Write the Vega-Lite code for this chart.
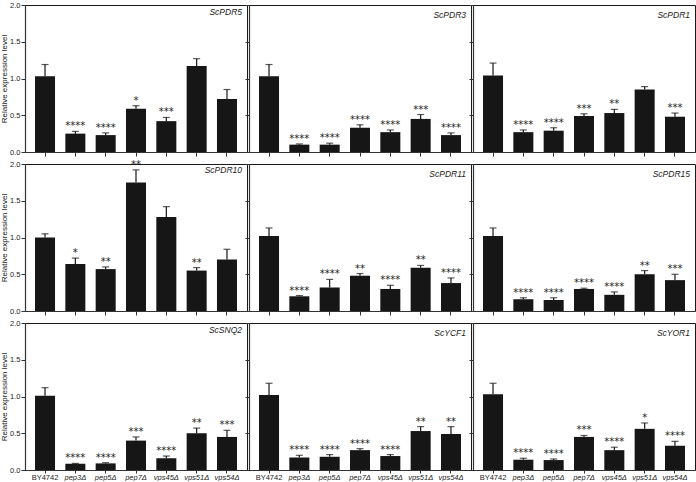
{
  "$schema": "https://vega.github.io/schema/vega-lite/v6.json",
  "padding": {"left": 0, "top": 0, "right": 0, "bottom": 0},
  "datasets": {
    "expr": [
      {"gene": "ScPDR5", "strain": "BY4742", "value": 1.03, "upper": 1.19, "sig": ""},
      {"gene": "ScPDR5", "strain": "pep3Δ", "value": 0.25, "upper": 0.28, "sig": "****"},
      {"gene": "ScPDR5", "strain": "pep5Δ", "value": 0.23, "upper": 0.26, "sig": "****"},
      {"gene": "ScPDR5", "strain": "pep7Δ", "value": 0.59, "upper": 0.63, "sig": "*"},
      {"gene": "ScPDR5", "strain": "vps45Δ", "value": 0.42, "upper": 0.47, "sig": "***"},
      {"gene": "ScPDR5", "strain": "vps51Δ", "value": 1.17, "upper": 1.27, "sig": ""},
      {"gene": "ScPDR5", "strain": "vps54Δ", "value": 0.72, "upper": 0.85, "sig": ""},
      {"gene": "ScPDR3", "strain": "BY4742", "value": 1.03, "upper": 1.19, "sig": ""},
      {"gene": "ScPDR3", "strain": "pep3Δ", "value": 0.10, "upper": 0.11, "sig": "****"},
      {"gene": "ScPDR3", "strain": "pep5Δ", "value": 0.10, "upper": 0.12, "sig": "****"},
      {"gene": "ScPDR3", "strain": "pep7Δ", "value": 0.33, "upper": 0.37, "sig": "****"},
      {"gene": "ScPDR3", "strain": "vps45Δ", "value": 0.27, "upper": 0.30, "sig": "****"},
      {"gene": "ScPDR3", "strain": "vps51Δ", "value": 0.45, "upper": 0.51, "sig": "***"},
      {"gene": "ScPDR3", "strain": "vps54Δ", "value": 0.23, "upper": 0.26, "sig": "****"},
      {"gene": "ScPDR1", "strain": "BY4742", "value": 1.04, "upper": 1.21, "sig": ""},
      {"gene": "ScPDR1", "strain": "pep3Δ", "value": 0.27, "upper": 0.30, "sig": "****"},
      {"gene": "ScPDR1", "strain": "pep5Δ", "value": 0.29, "upper": 0.33, "sig": "****"},
      {"gene": "ScPDR1", "strain": "pep7Δ", "value": 0.49, "upper": 0.52, "sig": "***"},
      {"gene": "ScPDR1", "strain": "vps45Δ", "value": 0.53, "upper": 0.58, "sig": "**"},
      {"gene": "ScPDR1", "strain": "vps51Δ", "value": 0.85, "upper": 0.89, "sig": ""},
      {"gene": "ScPDR1", "strain": "vps54Δ", "value": 0.48, "upper": 0.53, "sig": "***"},
      {"gene": "ScPDR10", "strain": "BY4742", "value": 1.00, "upper": 1.05, "sig": ""},
      {"gene": "ScPDR10", "strain": "pep3Δ", "value": 0.64, "upper": 0.72, "sig": "*"},
      {"gene": "ScPDR10", "strain": "pep5Δ", "value": 0.57, "upper": 0.60, "sig": "**"},
      {"gene": "ScPDR10", "strain": "pep7Δ", "value": 1.75, "upper": 1.92, "sig": "**"},
      {"gene": "ScPDR10", "strain": "vps45Δ", "value": 1.28, "upper": 1.42, "sig": ""},
      {"gene": "ScPDR10", "strain": "vps51Δ", "value": 0.55, "upper": 0.59, "sig": "**"},
      {"gene": "ScPDR10", "strain": "vps54Δ", "value": 0.70, "upper": 0.84, "sig": ""},
      {"gene": "ScPDR11", "strain": "BY4742", "value": 1.02, "upper": 1.13, "sig": ""},
      {"gene": "ScPDR11", "strain": "pep3Δ", "value": 0.20, "upper": 0.21, "sig": "****"},
      {"gene": "ScPDR11", "strain": "pep5Δ", "value": 0.32, "upper": 0.43, "sig": "****"},
      {"gene": "ScPDR11", "strain": "pep7Δ", "value": 0.48, "upper": 0.51, "sig": "**"},
      {"gene": "ScPDR11", "strain": "vps45Δ", "value": 0.30, "upper": 0.35, "sig": "****"},
      {"gene": "ScPDR11", "strain": "vps51Δ", "value": 0.59, "upper": 0.62, "sig": "**"},
      {"gene": "ScPDR11", "strain": "vps54Δ", "value": 0.38, "upper": 0.45, "sig": "****"},
      {"gene": "ScPDR15", "strain": "BY4742", "value": 1.02, "upper": 1.13, "sig": ""},
      {"gene": "ScPDR15", "strain": "pep3Δ", "value": 0.16, "upper": 0.18, "sig": "****"},
      {"gene": "ScPDR15", "strain": "pep5Δ", "value": 0.15, "upper": 0.18, "sig": "****"},
      {"gene": "ScPDR15", "strain": "pep7Δ", "value": 0.30, "upper": 0.31, "sig": "****"},
      {"gene": "ScPDR15", "strain": "vps45Δ", "value": 0.22, "upper": 0.26, "sig": "****"},
      {"gene": "ScPDR15", "strain": "vps51Δ", "value": 0.50, "upper": 0.55, "sig": "**"},
      {"gene": "ScPDR15", "strain": "vps54Δ", "value": 0.42, "upper": 0.50, "sig": "***"},
      {"gene": "ScSNQ2", "strain": "BY4742", "value": 1.01, "upper": 1.12, "sig": ""},
      {"gene": "ScSNQ2", "strain": "pep3Δ", "value": 0.085, "upper": 0.09, "sig": "****"},
      {"gene": "ScSNQ2", "strain": "pep5Δ", "value": 0.09, "upper": 0.10, "sig": "****"},
      {"gene": "ScSNQ2", "strain": "pep7Δ", "value": 0.40, "upper": 0.45, "sig": "***"},
      {"gene": "ScSNQ2", "strain": "vps45Δ", "value": 0.16, "upper": 0.19, "sig": "****"},
      {"gene": "ScSNQ2", "strain": "vps51Δ", "value": 0.50, "upper": 0.57, "sig": "**"},
      {"gene": "ScSNQ2", "strain": "vps54Δ", "value": 0.45, "upper": 0.54, "sig": "***"},
      {"gene": "ScYCF1", "strain": "BY4742", "value": 1.02, "upper": 1.18, "sig": ""},
      {"gene": "ScYCF1", "strain": "pep3Δ", "value": 0.17, "upper": 0.20, "sig": "****"},
      {"gene": "ScYCF1", "strain": "pep5Δ", "value": 0.18, "upper": 0.21, "sig": "****"},
      {"gene": "ScYCF1", "strain": "pep7Δ", "value": 0.27, "upper": 0.29, "sig": "****"},
      {"gene": "ScYCF1", "strain": "vps45Δ", "value": 0.19, "upper": 0.21, "sig": "****"},
      {"gene": "ScYCF1", "strain": "vps51Δ", "value": 0.53, "upper": 0.59, "sig": "**"},
      {"gene": "ScYCF1", "strain": "vps54Δ", "value": 0.49, "upper": 0.59, "sig": "**"},
      {"gene": "ScYOR1", "strain": "BY4742", "value": 1.03, "upper": 1.18, "sig": ""},
      {"gene": "ScYOR1", "strain": "pep3Δ", "value": 0.14, "upper": 0.16, "sig": "****"},
      {"gene": "ScYOR1", "strain": "pep5Δ", "value": 0.135, "upper": 0.15, "sig": "****"},
      {"gene": "ScYOR1", "strain": "pep7Δ", "value": 0.45, "upper": 0.47, "sig": "***"},
      {"gene": "ScYOR1", "strain": "vps45Δ", "value": 0.27, "upper": 0.31, "sig": "****"},
      {"gene": "ScYOR1", "strain": "vps51Δ", "value": 0.56, "upper": 0.64, "sig": "*"},
      {"gene": "ScYOR1", "strain": "vps54Δ", "value": 0.33, "upper": 0.39, "sig": "****"}
    ]
  },
  "config": {
    "font": "Liberation Sans",
    "view": {"stroke": "#1a1a1a", "strokeWidth": 1},
    "axis": {
      "domainColor": "#333333", "domainWidth": 1.2, "tickColor": "#333333", "tickWidth": 1,
      "tickSize": 4, "labelColor": "#222222", "labelFont": "Liberation Sans", "labelFontSize": 7.5,
      "grid": false, "titleFont": "Liberation Sans", "titleFontSize": 8, "titleFontWeight": "normal", "titleColor": "#222222"
    },
    "title": {"font": "Liberation Sans", "fontSize": 8.5, "fontStyle": "italic", "fontWeight": "normal", "color": "#222222", "anchor": "end", "frame": "group", "orient": "top", "offset": -15, "dx": -5}
  },
  "spacing": 2,
  "vconcat": [
    {
      "spacing": 2, "bounds": "flush",
      "hconcat": [
        {"width": 222, "height": 147, "title": "ScPDR5", "data": {"name": "expr"}, "transform": [{"filter": "datum.gene === 'ScPDR5'"}],
          "encoding": {"x": {"field": "strain", "type": "nominal", "sort": ["BY4742", "pep3Δ", "pep5Δ", "pep7Δ", "vps45Δ", "vps51Δ", "vps54Δ"], "scale": {"paddingInner": 0.34, "paddingOuter": 0.33}, "axis": {"title": null, "labels": false}}},
          "layer": [
            {"mark": {"type": "bar", "color": "#161616"}, "encoding": {"y": {"field": "value", "type": "quantitative", "scale": {"domain": [0, 2]}, "axis": {"values": [0, 0.5, 1, 1.5, 2], "format": ".1f", "labelPadding": 1, "title": "Relative expression level", "titlePadding": 1}}}},
            {"mark": {"type": "rule", "color": "#161616", "strokeWidth": 1.2}, "encoding": {"y": {"field": "value", "type": "quantitative", "axis": {"values": [0, 0.5, 1, 1.5, 2], "format": ".1f", "labelPadding": 1, "title": "Relative expression level", "titlePadding": 1}}, "y2": {"field": "upper"}}},
            {"mark": {"type": "tick", "color": "#161616", "size": 7, "thickness": 1.2}, "encoding": {"y": {"field": "upper", "type": "quantitative", "axis": {"values": [0, 0.5, 1, 1.5, 2], "format": ".1f", "labelPadding": 1, "title": "Relative expression level", "titlePadding": 1}}}},
            {"mark": {"type": "text", "font": "DejaVu Sans", "fontSize": 10, "color": "#222222", "baseline": "alphabetic", "dy": -2}, "encoding": {"y": {"field": "upper", "type": "quantitative", "axis": {"values": [0, 0.5, 1, 1.5, 2], "format": ".1f", "labelPadding": 1, "title": "Relative expression level", "titlePadding": 1}}, "text": {"field": "sig"}}}
          ]},
        {"width": 222, "height": 147, "title": "ScPDR3", "data": {"name": "expr"}, "transform": [{"filter": "datum.gene === 'ScPDR3'"}],
          "encoding": {"x": {"field": "strain", "type": "nominal", "sort": ["BY4742", "pep3Δ", "pep5Δ", "pep7Δ", "vps45Δ", "vps51Δ", "vps54Δ"], "scale": {"paddingInner": 0.34, "paddingOuter": 0.33}, "axis": {"title": null, "labels": false}}},
          "layer": [
            {"mark": {"type": "bar", "color": "#161616"}, "encoding": {"y": {"field": "value", "type": "quantitative", "scale": {"domain": [0, 2]}, "axis": {"values": [0, 0.5, 1, 1.5, 2], "labels": false, "title": null}}}},
            {"mark": {"type": "rule", "color": "#161616", "strokeWidth": 1.2}, "encoding": {"y": {"field": "value", "type": "quantitative", "axis": {"values": [0, 0.5, 1, 1.5, 2], "labels": false, "title": null}}, "y2": {"field": "upper"}}},
            {"mark": {"type": "tick", "color": "#161616", "size": 7, "thickness": 1.2}, "encoding": {"y": {"field": "upper", "type": "quantitative", "axis": {"values": [0, 0.5, 1, 1.5, 2], "labels": false, "title": null}}}},
            {"mark": {"type": "text", "font": "DejaVu Sans", "fontSize": 10, "color": "#222222", "baseline": "alphabetic", "dy": -2}, "encoding": {"y": {"field": "upper", "type": "quantitative", "axis": {"values": [0, 0.5, 1, 1.5, 2], "labels": false, "title": null}}, "text": {"field": "sig"}}}
          ]},
        {"width": 222, "height": 147, "title": "ScPDR1", "data": {"name": "expr"}, "transform": [{"filter": "datum.gene === 'ScPDR1'"}],
          "encoding": {"x": {"field": "strain", "type": "nominal", "sort": ["BY4742", "pep3Δ", "pep5Δ", "pep7Δ", "vps45Δ", "vps51Δ", "vps54Δ"], "scale": {"paddingInner": 0.34, "paddingOuter": 0.33}, "axis": {"title": null, "labels": false}}},
          "layer": [
            {"mark": {"type": "bar", "color": "#161616"}, "encoding": {"y": {"field": "value", "type": "quantitative", "scale": {"domain": [0, 2]}, "axis": {"values": [0, 0.5, 1, 1.5, 2], "labels": false, "title": null}}}},
            {"mark": {"type": "rule", "color": "#161616", "strokeWidth": 1.2}, "encoding": {"y": {"field": "value", "type": "quantitative", "axis": {"values": [0, 0.5, 1, 1.5, 2], "labels": false, "title": null}}, "y2": {"field": "upper"}}},
            {"mark": {"type": "tick", "color": "#161616", "size": 7, "thickness": 1.2}, "encoding": {"y": {"field": "upper", "type": "quantitative", "axis": {"values": [0, 0.5, 1, 1.5, 2], "labels": false, "title": null}}}},
            {"mark": {"type": "text", "font": "DejaVu Sans", "fontSize": 10, "color": "#222222", "baseline": "alphabetic", "dy": -2}, "encoding": {"y": {"field": "upper", "type": "quantitative", "axis": {"values": [0, 0.5, 1, 1.5, 2], "labels": false, "title": null}}, "text": {"field": "sig"}}}
          ]}
      ]
    },
    {
      "spacing": 2, "bounds": "flush",
      "hconcat": [
        {"width": 222, "height": 147, "title": "ScPDR10", "data": {"name": "expr"}, "transform": [{"filter": "datum.gene === 'ScPDR10'"}],
          "encoding": {"x": {"field": "strain", "type": "nominal", "sort": ["BY4742", "pep3Δ", "pep5Δ", "pep7Δ", "vps45Δ", "vps51Δ", "vps54Δ"], "scale": {"paddingInner": 0.34, "paddingOuter": 0.33}, "axis": {"title": null, "labels": false}}},
          "layer": [
            {"mark": {"type": "bar", "color": "#161616"}, "encoding": {"y": {"field": "value", "type": "quantitative", "scale": {"domain": [0, 2]}, "axis": {"values": [0, 0.5, 1, 1.5, 2], "format": ".1f", "labelPadding": 1, "title": "Relative expression level", "titlePadding": 1}}}},
            {"mark": {"type": "rule", "color": "#161616", "strokeWidth": 1.2}, "encoding": {"y": {"field": "value", "type": "quantitative", "axis": {"values": [0, 0.5, 1, 1.5, 2], "format": ".1f", "labelPadding": 1, "title": "Relative expression level", "titlePadding": 1}}, "y2": {"field": "upper"}}},
            {"mark": {"type": "tick", "color": "#161616", "size": 7, "thickness": 1.2}, "encoding": {"y": {"field": "upper", "type": "quantitative", "axis": {"values": [0, 0.5, 1, 1.5, 2], "format": ".1f", "labelPadding": 1, "title": "Relative expression level", "titlePadding": 1}}}},
            {"mark": {"type": "text", "font": "DejaVu Sans", "fontSize": 10, "color": "#222222", "baseline": "alphabetic", "dy": -2}, "encoding": {"y": {"field": "upper", "type": "quantitative", "axis": {"values": [0, 0.5, 1, 1.5, 2], "format": ".1f", "labelPadding": 1, "title": "Relative expression level", "titlePadding": 1}}, "text": {"field": "sig"}}}
          ]},
        {"width": 222, "height": 147, "title": "ScPDR11", "data": {"name": "expr"}, "transform": [{"filter": "datum.gene === 'ScPDR11'"}],
          "encoding": {"x": {"field": "strain", "type": "nominal", "sort": ["BY4742", "pep3Δ", "pep5Δ", "pep7Δ", "vps45Δ", "vps51Δ", "vps54Δ"], "scale": {"paddingInner": 0.34, "paddingOuter": 0.33}, "axis": {"title": null, "labels": false}}},
          "layer": [
            {"mark": {"type": "bar", "color": "#161616"}, "encoding": {"y": {"field": "value", "type": "quantitative", "scale": {"domain": [0, 2]}, "axis": {"values": [0, 0.5, 1, 1.5, 2], "labels": false, "title": null}}}},
            {"mark": {"type": "rule", "color": "#161616", "strokeWidth": 1.2}, "encoding": {"y": {"field": "value", "type": "quantitative", "axis": {"values": [0, 0.5, 1, 1.5, 2], "labels": false, "title": null}}, "y2": {"field": "upper"}}},
            {"mark": {"type": "tick", "color": "#161616", "size": 7, "thickness": 1.2}, "encoding": {"y": {"field": "upper", "type": "quantitative", "axis": {"values": [0, 0.5, 1, 1.5, 2], "labels": false, "title": null}}}},
            {"mark": {"type": "text", "font": "DejaVu Sans", "fontSize": 10, "color": "#222222", "baseline": "alphabetic", "dy": -2}, "encoding": {"y": {"field": "upper", "type": "quantitative", "axis": {"values": [0, 0.5, 1, 1.5, 2], "labels": false, "title": null}}, "text": {"field": "sig"}}}
          ]},
        {"width": 222, "height": 147, "title": "ScPDR15", "data": {"name": "expr"}, "transform": [{"filter": "datum.gene === 'ScPDR15'"}],
          "encoding": {"x": {"field": "strain", "type": "nominal", "sort": ["BY4742", "pep3Δ", "pep5Δ", "pep7Δ", "vps45Δ", "vps51Δ", "vps54Δ"], "scale": {"paddingInner": 0.34, "paddingOuter": 0.33}, "axis": {"title": null, "labels": false}}},
          "layer": [
            {"mark": {"type": "bar", "color": "#161616"}, "encoding": {"y": {"field": "value", "type": "quantitative", "scale": {"domain": [0, 2]}, "axis": {"values": [0, 0.5, 1, 1.5, 2], "labels": false, "title": null}}}},
            {"mark": {"type": "rule", "color": "#161616", "strokeWidth": 1.2}, "encoding": {"y": {"field": "value", "type": "quantitative", "axis": {"values": [0, 0.5, 1, 1.5, 2], "labels": false, "title": null}}, "y2": {"field": "upper"}}},
            {"mark": {"type": "tick", "color": "#161616", "size": 7, "thickness": 1.2}, "encoding": {"y": {"field": "upper", "type": "quantitative", "axis": {"values": [0, 0.5, 1, 1.5, 2], "labels": false, "title": null}}}},
            {"mark": {"type": "text", "font": "DejaVu Sans", "fontSize": 10, "color": "#222222", "baseline": "alphabetic", "dy": -2}, "encoding": {"y": {"field": "upper", "type": "quantitative", "axis": {"values": [0, 0.5, 1, 1.5, 2], "labels": false, "title": null}}, "text": {"field": "sig"}}}
          ]}
      ]
    },
    {
      "spacing": 2, "bounds": "flush",
      "hconcat": [
        {"width": 222, "height": 147, "title": "ScSNQ2", "data": {"name": "expr"}, "transform": [{"filter": "datum.gene === 'ScSNQ2'"}],
          "encoding": {"x": {"field": "strain", "type": "nominal", "sort": ["BY4742", "pep3Δ", "pep5Δ", "pep7Δ", "vps45Δ", "vps51Δ", "vps54Δ"], "scale": {"paddingInner": 0.34, "paddingOuter": 0.33}, "axis": {"title": null, "labelAngle": 0, "labelPadding": 0, "tickSize": 3, "labelFontStyle": {"expr": "datum.value === 'BY4742' ? 'normal' : 'italic'"}}}},
          "layer": [
            {"mark": {"type": "bar", "color": "#161616"}, "encoding": {"y": {"field": "value", "type": "quantitative", "scale": {"domain": [0, 2]}, "axis": {"values": [0, 0.5, 1, 1.5, 2], "format": ".1f", "labelPadding": 1, "title": "Relative expression level", "titlePadding": 1}}}},
            {"mark": {"type": "rule", "color": "#161616", "strokeWidth": 1.2}, "encoding": {"y": {"field": "value", "type": "quantitative", "axis": {"values": [0, 0.5, 1, 1.5, 2], "format": ".1f", "labelPadding": 1, "title": "Relative expression level", "titlePadding": 1}}, "y2": {"field": "upper"}}},
            {"mark": {"type": "tick", "color": "#161616", "size": 7, "thickness": 1.2}, "encoding": {"y": {"field": "upper", "type": "quantitative", "axis": {"values": [0, 0.5, 1, 1.5, 2], "format": ".1f", "labelPadding": 1, "title": "Relative expression level", "titlePadding": 1}}}},
            {"mark": {"type": "text", "font": "DejaVu Sans", "fontSize": 10, "color": "#222222", "baseline": "alphabetic", "dy": -2}, "encoding": {"y": {"field": "upper", "type": "quantitative", "axis": {"values": [0, 0.5, 1, 1.5, 2], "format": ".1f", "labelPadding": 1, "title": "Relative expression level", "titlePadding": 1}}, "text": {"field": "sig"}}}
          ]},
        {"width": 222, "height": 147, "title": "ScYCF1", "data": {"name": "expr"}, "transform": [{"filter": "datum.gene === 'ScYCF1'"}],
          "encoding": {"x": {"field": "strain", "type": "nominal", "sort": ["BY4742", "pep3Δ", "pep5Δ", "pep7Δ", "vps45Δ", "vps51Δ", "vps54Δ"], "scale": {"paddingInner": 0.34, "paddingOuter": 0.33}, "axis": {"title": null, "labelAngle": 0, "labelPadding": 0, "tickSize": 3, "labelFontStyle": {"expr": "datum.value === 'BY4742' ? 'normal' : 'italic'"}}}},
          "layer": [
            {"mark": {"type": "bar", "color": "#161616"}, "encoding": {"y": {"field": "value", "type": "quantitative", "scale": {"domain": [0, 2]}, "axis": {"values": [0, 0.5, 1, 1.5, 2], "labels": false, "title": null}}}},
            {"mark": {"type": "rule", "color": "#161616", "strokeWidth": 1.2}, "encoding": {"y": {"field": "value", "type": "quantitative", "axis": {"values": [0, 0.5, 1, 1.5, 2], "labels": false, "title": null}}, "y2": {"field": "upper"}}},
            {"mark": {"type": "tick", "color": "#161616", "size": 7, "thickness": 1.2}, "encoding": {"y": {"field": "upper", "type": "quantitative", "axis": {"values": [0, 0.5, 1, 1.5, 2], "labels": false, "title": null}}}},
            {"mark": {"type": "text", "font": "DejaVu Sans", "fontSize": 10, "color": "#222222", "baseline": "alphabetic", "dy": -2}, "encoding": {"y": {"field": "upper", "type": "quantitative", "axis": {"values": [0, 0.5, 1, 1.5, 2], "labels": false, "title": null}}, "text": {"field": "sig"}}}
          ]},
        {"width": 222, "height": 147, "title": "ScYOR1", "data": {"name": "expr"}, "transform": [{"filter": "datum.gene === 'ScYOR1'"}],
          "encoding": {"x": {"field": "strain", "type": "nominal", "sort": ["BY4742", "pep3Δ", "pep5Δ", "pep7Δ", "vps45Δ", "vps51Δ", "vps54Δ"], "scale": {"paddingInner": 0.34, "paddingOuter": 0.33}, "axis": {"title": null, "labelAngle": 0, "labelPadding": 0, "tickSize": 3, "labelFontStyle": {"expr": "datum.value === 'BY4742' ? 'normal' : 'italic'"}}}},
          "layer": [
            {"mark": {"type": "bar", "color": "#161616"}, "encoding": {"y": {"field": "value", "type": "quantitative", "scale": {"domain": [0, 2]}, "axis": {"values": [0, 0.5, 1, 1.5, 2], "labels": false, "title": null}}}},
            {"mark": {"type": "rule", "color": "#161616", "strokeWidth": 1.2}, "encoding": {"y": {"field": "value", "type": "quantitative", "axis": {"values": [0, 0.5, 1, 1.5, 2], "labels": false, "title": null}}, "y2": {"field": "upper"}}},
            {"mark": {"type": "tick", "color": "#161616", "size": 7, "thickness": 1.2}, "encoding": {"y": {"field": "upper", "type": "quantitative", "axis": {"values": [0, 0.5, 1, 1.5, 2], "labels": false, "title": null}}}},
            {"mark": {"type": "text", "font": "DejaVu Sans", "fontSize": 10, "color": "#222222", "baseline": "alphabetic", "dy": -2}, "encoding": {"y": {"field": "upper", "type": "quantitative", "axis": {"values": [0, 0.5, 1, 1.5, 2], "labels": false, "title": null}}, "text": {"field": "sig"}}}
          ]}
      ]
    }
  ]
}
